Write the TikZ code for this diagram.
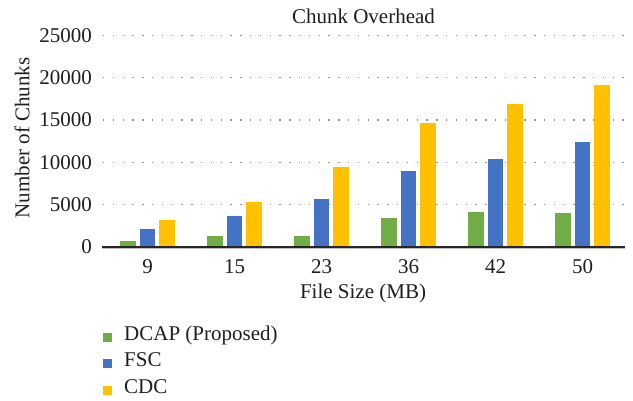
\documentclass[tikz,border=0pt]{standalone}
\usepackage{fontspec}
\setmainfont{Liberation Serif}
\definecolor{cgreen}{RGB}{112,173,71}
\definecolor{cblue}{RGB}{68,114,196}
\definecolor{cyellow}{RGB}{255,192,0}
\definecolor{cgrid}{RGB}{150,150,150}
\definecolor{ctext}{RGB}{30,30,30}
\begin{document}
\begin{tikzpicture}[x=1pt,y=-1pt,
  every node/.style={font=\fontsize{21}{24}\selectfont, text=ctext, inner sep=0pt},
  grid/.style={cgrid, line width=1.3pt, dash pattern=on 1.3pt off 8.5pt},
  lbl/.style={anchor=east},
  legbox/.style={minimum size=9pt, inner sep=0pt}]
\useasboundingbox (0,0) rectangle (633,400);
% grid
\foreach \v in {1,...,5} {
  \draw[grid] (103,{247-42.35*\v}) -- (625,{247-42.35*\v});
}
% y labels
\foreach \v/\t in {0/0,1/5000,2/10000,3/15000,4/20000,5/25000} {
  \node[lbl] (y\v) at (92,{247-42.35*\v}) {\t};
}
% bars (values in thousands)
\def\barsc{8.47}
\foreach \i/\g/\b/\c in {0/0.75/2.13/3.19,1/1.30/3.66/5.32,2/1.30/5.67/9.46,3/3.43/8.98/14.66,4/4.14/10.40/16.90,5/4.02/12.41/19.15} {
  \pgfmathsetmacro{\xc}{147.5+87*\i}
  \fill[cgreen] (\xc-27.5,247) rectangle (\xc-11.5,{247-\g*\barsc});
  \fill[cblue] (\xc-7.5,247) rectangle (\xc+7.5,{247-\b*\barsc});
  \fill[cyellow] (\xc+11.5,247) rectangle (\xc+27.5,{247-\c*\barsc});
}
% axis
\draw[cgrid!60, line width=1pt] (102,248.5) -- (625,248.5);
\draw[black!85, line width=1.4pt] (102,247) -- (625,247);
% x labels
\foreach \i/\t in {0/9,1/15,2/23,3/36,4/42,5/50} {
  \node (x\i) at ({147.5+87*\i},267) {\t};
}
\node (xt) at (363,293) {File Size (MB)};
\node[rotate=90] (yt) at (22,138) {Number of Chunks};
\node (title) at (363.5,16) {Chunk Overhead};
% legend
\node[legbox, fill=cgreen] (l1) at (107,337) {};
\node[legbox, fill=cblue] (l2) at (107,363) {};
\node[legbox, fill=cyellow] (l3) at (107,390) {};
\node[anchor=west] (t1) at (124,335) {DCAP (Proposed)};
\node[anchor=west] (t2) at (124,360) {FSC};
\node[anchor=west] (t3) at (124,387) {CDC};
\end{tikzpicture}
\end{document}
